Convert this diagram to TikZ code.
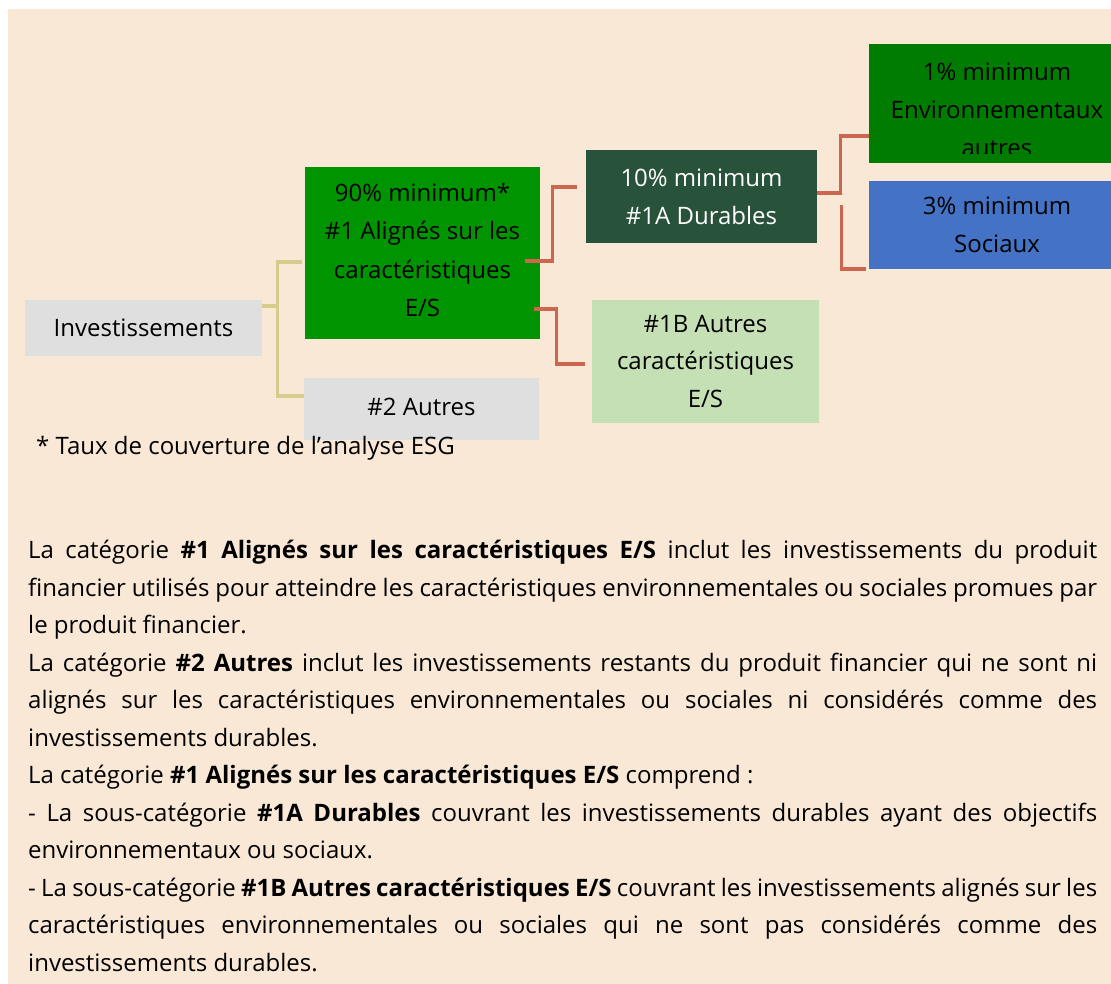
\documentclass[tikz,border=0pt]{standalone}
\usepackage{fontspec}
\setmainfont{Open Sans}
\usetikzlibrary{calc}
\definecolor{panel}{RGB}{250,232,215}
\definecolor{greybox}{RGB}{223,223,223}
\definecolor{brightgreen}{RGB}{0,148,0}
\definecolor{envgreen}{RGB}{0,125,0}
\definecolor{darkgreen}{RGB}{40,82,57}
\definecolor{lightgreen}{RGB}{197,224,180}
\definecolor{socblue}{RGB}{68,114,196}
\definecolor{yelline}{RGB}{214,204,142}
\definecolor{redline}{RGB}{204,102,80}
\tikzset{
  boxtext/.style={font=\fontsize{24}{37.8}\selectfont},
  box/.style={rectangle, inner sep=0pt, align=center, boxtext},
  yconn/.style={draw=yelline, line width=3.3pt},
  rconn/.style={draw=redline, line width=3.3pt},
}
\begin{document}
\begin{tikzpicture}[x=1pt,y=-1pt]
\useasboundingbox (0,0) rectangle (1111,984);
\fill[white] (0,0) rectangle (1111,984);
\fill[panel] (8,9) rectangle (1111,984);

% boxes
\node[box, fill=greybox, minimum width=237pt, minimum height=56pt] (inv) at (143.5,328) {Investissements};
\node[box, fill=brightgreen, minimum width=235pt, minimum height=172pt] (g1) at (422.5,253) {};
\node[box, font=\fontsize{24}{38.3}\selectfont] (g1text) at ($(g1.center)+(0,-3)$)
  {90\% minimum*\\\#1 Alignés sur les\\caractéristiques\\E/S};
\node[box, fill=greybox, minimum width=235pt, minimum height=62pt] (aut) at (421.5,409) {\raisebox{4pt}{\#2 Autres}};
\node[box, fill=darkgreen, text=white, minimum width=231pt, minimum height=93pt] (ten) at (701.5,196.5)
  {10\% minimum\\\#1A Durables};
\node[box, fill=lightgreen, minimum width=227pt, minimum height=123pt] (b1) at (705.5,361.5)
  {\#1B Autres\\caractéristiques\\E/S};
\node[box, fill=envgreen, minimum width=256pt, minimum height=119pt] (env) at (997,103.5) {};
\begin{scope}
  \clip (env.north west) rectangle ($(env.south east)+(0,-10)$);
  \node[box] (envtext) at (997,110) {1\% minimum\\Environnementaux\\autres};
\end{scope}
\node[box, fill=socblue, minimum width=256pt, minimum height=88pt] (soc) at (997,225)
  {3\% minimum\\Sociaux};

% footnote
\node[anchor=west, inner sep=0pt, font=\fontsize{24}{28}\selectfont] (note) at (36,448)
  {* Taux de couverture de l’analyse ESG};

% yellow connectors
\draw[yconn] ($(inv.east)+(0,-22)$) -- ($(inv.east)+(16,-22)$);
\draw[yconn] ($(g1.west)+(-3,9)$) -| ($(aut.west)+(-26,-13)$) -- ($(aut.west)+(0,-13)$);

% red connectors
\draw[rconn] ($(g1.east)+(-15,8)$) -| ($(ten.west)+(-33,-9.5)$) -- ($(ten.west)+(-9,-9.5)$);
\draw[rconn] ($(g1.east)+(-6,56)$) -| ($(b1.west)+(-35,2.5)$) -- ($(b1.west)+(-7,2.5)$);
\draw[rconn] ($(ten.east)+(0,-3.5)$) -| ($(env.west)+(-28,32.5)$) -- ($(env.west)+(0,32.5)$);
\draw[rconn] ($(soc.west)+(-27,-20)$) |- ($(soc.west)+(-3,44)$);

% body text
\node[anchor=north west, inner sep=0pt, text width=1069pt, align=justify,
      font=\fontsize{24}{37.5}\selectfont] (body) at (28,540) {%
\setlength{\parindent}{0pt}\setlength{\parskip}{0pt}\emergencystretch=2em
La catégorie \textbf{\#1 Alignés sur les caractéristiques E/S} inclut les investissements du produit\linebreak
financier utilisés pour atteindre les caractéristiques environnementales ou sociales promues par\linebreak
le produit financier.\par
La catégorie \textbf{\#2 Autres} inclut les investissements restants du produit financier qui ne sont ni\linebreak
alignés sur les caractéristiques environnementales ou sociales ni considérés comme des\linebreak
investissements durables.\par
La catégorie \textbf{\#1 Alignés sur les caractéristiques E/S} comprend :\par
- La sous-catégorie \textbf{\#1A Durables} couvrant les investissements durables ayant des objectifs\linebreak
environnementaux ou sociaux.\par
- La sous-catégorie \textbf{\#1B Autres caractéristiques E/S} couvrant les investissements alignés sur les\linebreak
caractéristiques environnementales ou sociales qui ne sont pas considérés comme des\linebreak
investissements durables.};
\end{tikzpicture}
\end{document}
